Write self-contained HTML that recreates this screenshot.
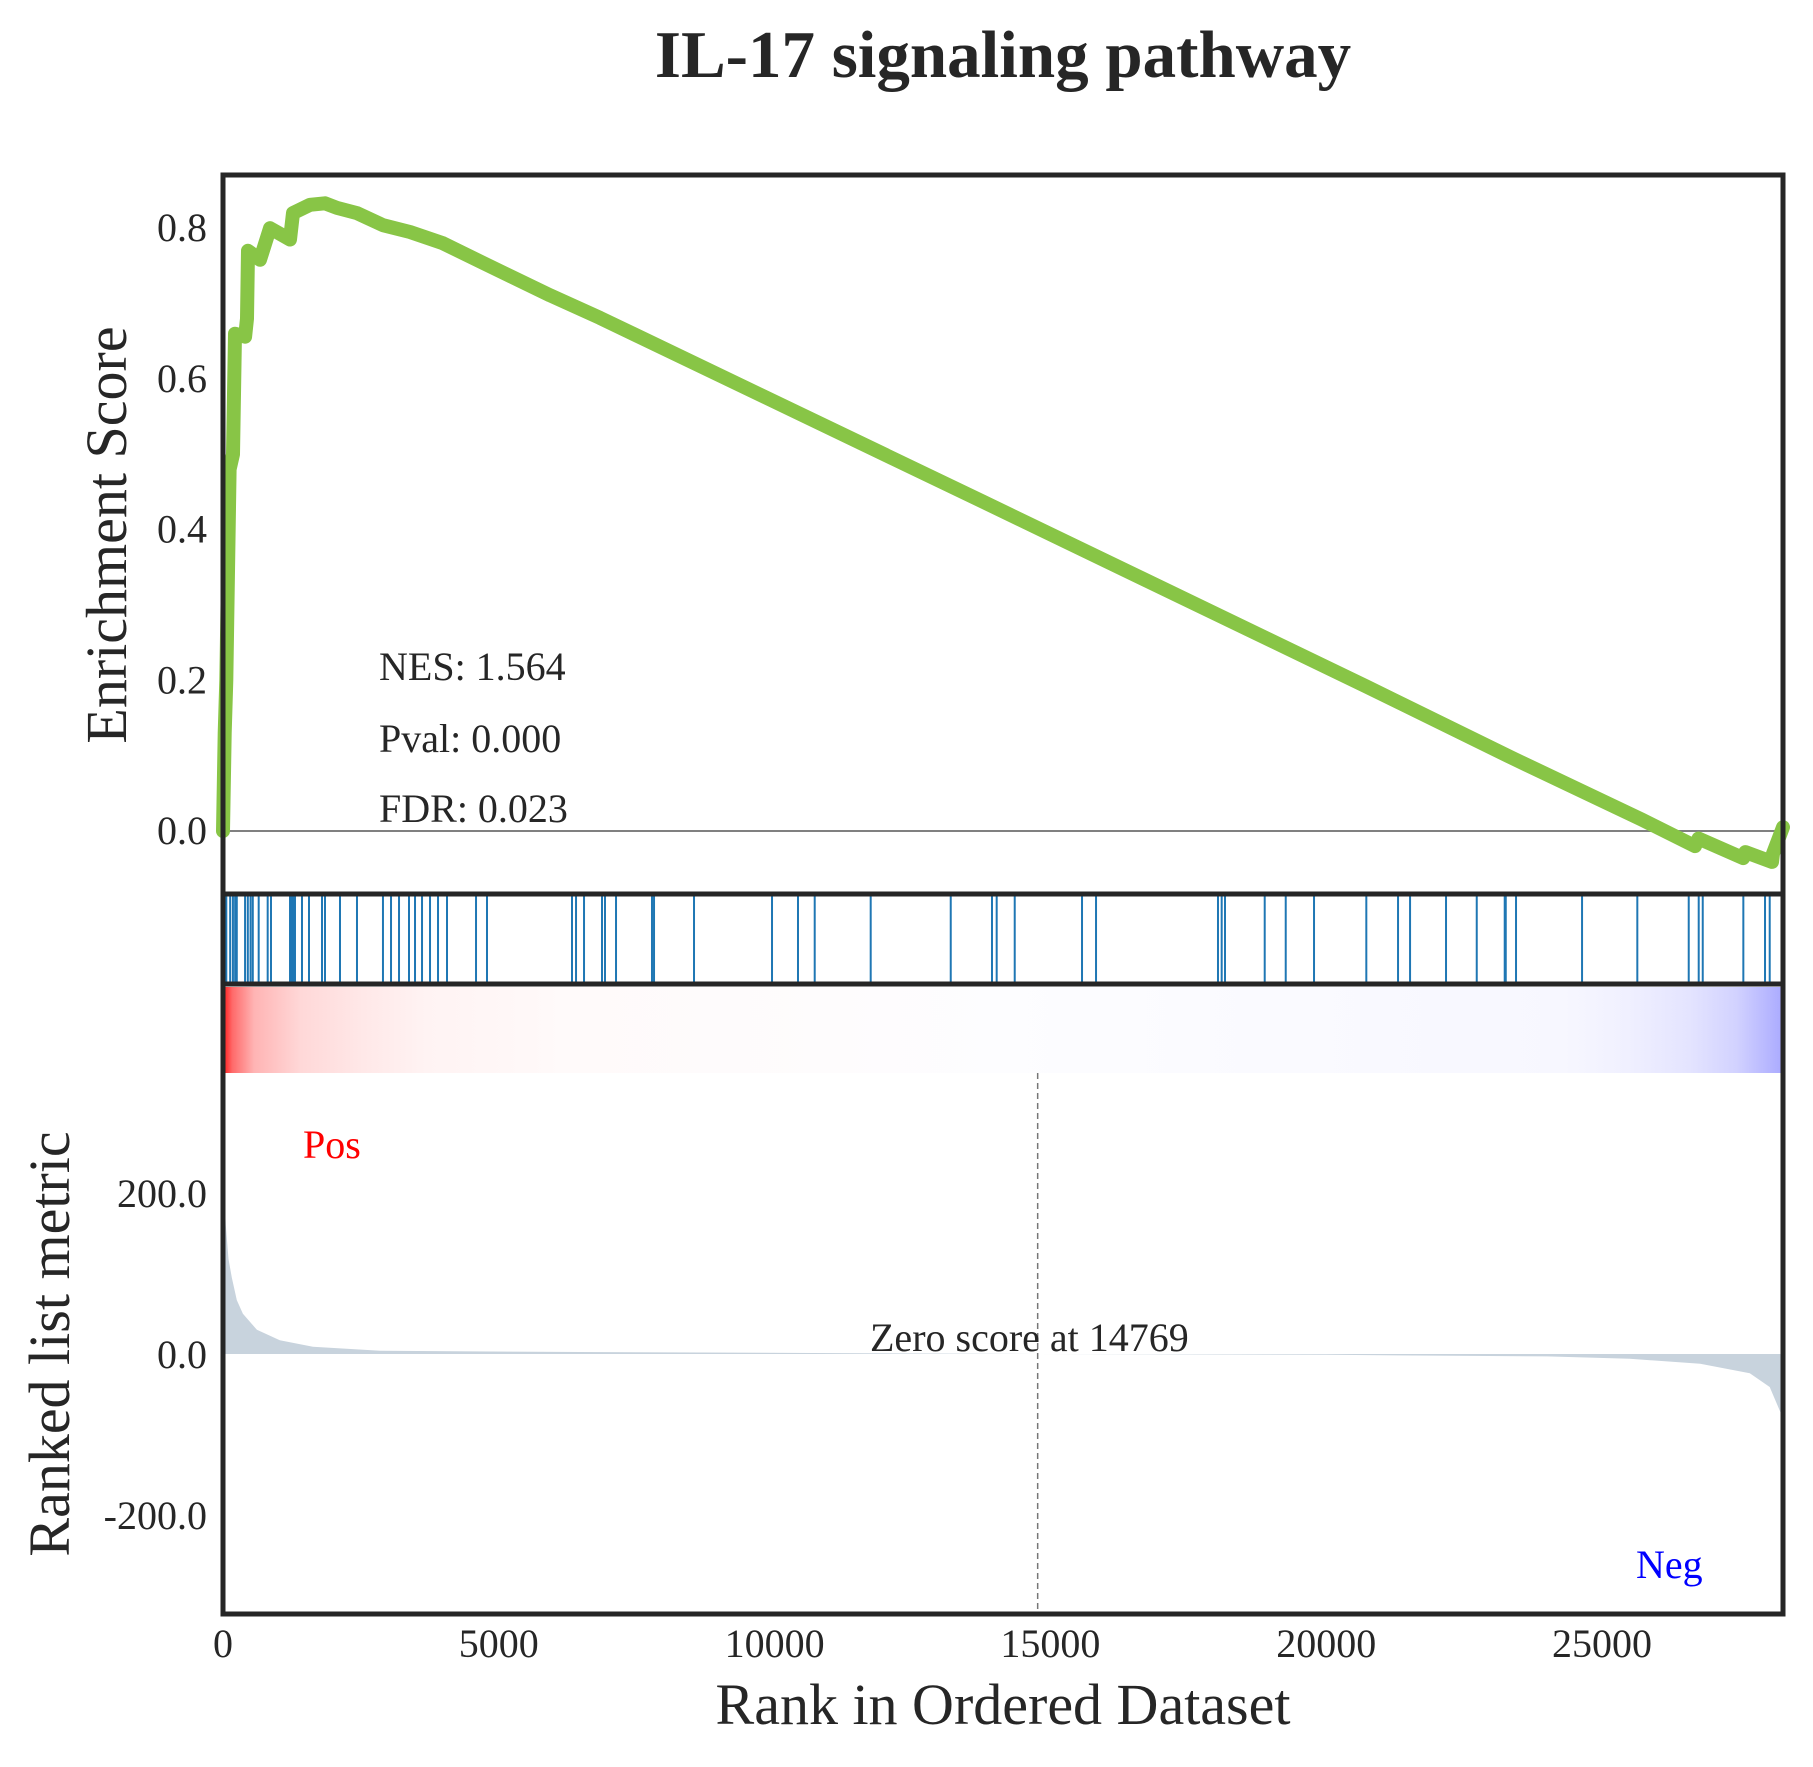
<!DOCTYPE html>
<html><head><meta charset="utf-8"><style>
html,body{margin:0;padding:0;background:#fff;}
svg{display:block;font-family:"Liberation Serif",serif;}
</style></head><body>
<svg id="chart" width="1813" height="1767" viewBox="0 0 1813 1767" xmlns="http://www.w3.org/2000/svg">
<defs>
<linearGradient id="rankGrad" x1="0" x2="1" y1="0" y2="0">
<stop offset="0" stop-color="#ff1a1a"/><stop offset="0.006" stop-color="#ff6a6a"/>
<stop offset="0.02" stop-color="#ffb4b4"/><stop offset="0.05" stop-color="#ffd8d8"/>
<stop offset="0.09" stop-color="#ffe8e8"/><stop offset="0.13" stop-color="#fff3f3"/>
<stop offset="0.22" stop-color="#fffafa"/><stop offset="0.5" stop-color="#fdfdff"/>
<stop offset="0.86" stop-color="#f7f7ff"/><stop offset="0.9" stop-color="#f0f0ff"/>
<stop offset="0.94" stop-color="#e4e4ff"/><stop offset="0.97" stop-color="#d2d2ff"/>
<stop offset="1" stop-color="#aaaaff"/>
</linearGradient>
</defs>
<text x="1003" y="77" font-size="67" font-weight="bold" text-anchor="middle" fill="#262626">IL-17 signaling pathway</text>
<g id="es-panel"></g>
<g id="hits-panel"></g>
<rect x="223" y="987" width="1560" height="86" fill="url(#rankGrad)"/>
<g id="metric-panel"></g>
<g id="frames"></g>
<text transform="translate(126,535) rotate(-90)" font-size="58" text-anchor="middle" fill="#262626">Enrichment Score</text>
<text transform="translate(69,1344) rotate(-90)" font-size="58" text-anchor="middle" fill="#262626">Ranked list metric</text>
<text x="1003" y="1724" font-size="58" text-anchor="middle" fill="#262626">Rank in Ordered Dataset</text>
<text x="379" y="680" font-size="40" fill="#262626">NES: 1.564</text>
<text x="379" y="752" font-size="40" fill="#262626">Pval: 0.000</text>
<text x="379" y="822" font-size="40" fill="#262626">FDR: 0.023</text>
<text x="303" y="1158" font-size="40" fill="#ff0000">Pos</text>
<text x="1636" y="1578" font-size="40" fill="#0000ff">Neg</text>
</svg>
<script>
const esRanks = [0,30,60,120,181,218,400,435,453,671,852,1215,1269,1577,1849,2067,2429,2901,3390,3988,4714,5928,6835,13778,20722,23368,25725,26685,26750,27560,27600,28082,28100,28281];
const esValues = [0,0.13,0.2,0.48,0.50,0.66,0.656,0.68,0.77,0.758,0.80,0.785,0.82,0.831,0.833,0.827,0.82,0.804,0.795,0.78,0.754,0.711,0.681,0.437,0.192,0.097,0.015,-0.020,-0.010,-0.036,-0.028,-0.041,-0.03,0.005];
const hitRanks = [60,130,180,220,250,400,450,500,540,647,810,870,1215,1250,1270,1305,1432,1559,1795,1849,2121,2429,2900,3046,3191,3372,3481,3608,3753,3898,4061,4587,4786,6327,6400,6545,6871,6925,7125,7777,7814,8539,9953,10424,10727,11742,13193,13941,14026,14353,15573,15827,18038,18105,18165,18885,19266,19779,20727,21302,21520,22172,22729,23236,23255,23441,24638,25640,26572,26753,26826,27562,27955,28040];
const metricRanks = [0,20,50,100,160,250,360,615,1030,1630,2850,6470,14769,20000,24000,25500,26780,27680,28040,28220,28281];
const metricValues = [240,210,160,118,95,67,50,30,17,9,4,2.5,0,-1,-3,-6,-12,-24,-41,-70,-80];
const esTicks = [0.0,0.2,0.4,0.6,0.8];
const esTickLabels = ["0.0","0.2","0.4","0.6","0.8"];
const metricTicks = [-200,0,200];
const metricTickLabels = ["-200.0","0.0","200.0"];
const xTicks = [0,5000,10000,15000,20000,25000];
const xTickLabels = ["0","5000","10000","15000","20000","25000"];
const zeroScoreRank = 14769;

const NS="http://www.w3.org/2000/svg";
const L=223,R=1783,maxRank=28281;
const xs=r=>L+(r/maxRank)*(R-L);
const yES=v=>831-v*753.5;
const yM=v=>1354-v*0.805;
function mk(tag,parent,attrs){const e=document.createElementNS(NS,tag);for(const k in attrs)e.setAttribute(k,attrs[k]);parent.appendChild(e);return e;}
const svg=document.getElementById('chart');
const esG=document.getElementById('es-panel');
const hitsG=document.getElementById('hits-panel');
const mG=document.getElementById('metric-panel');
const fr=document.getElementById('frames');

let zl=mk('line',esG,{x1:L,x2:R,y1:yES(0),y2:yES(0),stroke:'#808080','stroke-width':2});


let pts=esRanks.map((r,i)=>xs(r).toFixed(1)+','+yES(esValues[i]).toFixed(1)).join(' ');
let esLine=mk('polyline',esG,{points:pts,fill:'none',stroke:'#88c546','stroke-width':14,'stroke-linejoin':'round','stroke-linecap':'round'});


hitRanks.forEach(r=>{
  const h=mk('line',hitsG,{x1:xs(r),x2:xs(r),y1:896,y2:982,stroke:'#1f77b4','stroke-width':2});
  
  
});
let mp='M'+xs(metricRanks[0])+','+yM(0);
metricRanks.forEach((r,i)=>{mp+=' L'+xs(r).toFixed(1)+','+yM(metricValues[i]).toFixed(1);});
mp+=' L'+xs(metricRanks[metricRanks.length-1])+','+yM(0)+' Z';
let area=mk('path',mG,{d:mp,fill:'#c8d3dd'});


let zd=mk('line',mG,{x1:xs(zeroScoreRank),x2:xs(zeroScoreRank),y1:1073,y2:1612,stroke:'#777','stroke-width':1.5,'stroke-dasharray':'6,4'});


let zt=mk('text',mG,{x:870,y:1351,'font-size':40,fill:'#262626'});
zt.textContent='Zero score at '+zeroScoreRank;


[[223,175,1560,719],[223,894,1560,90],[223,984,1560,630]].forEach((b,i)=>{
  const f=mk('rect',fr,{x:b[0],y:b[1],width:b[2],height:b[3],fill:'none',stroke:'#262626','stroke-width':5});
  
  
});
esTicks.forEach((v,i)=>{
  const t=mk('text',svg,{x:207,y:yES(v)+13,'font-size':40,'text-anchor':'end',fill:'#262626'});
  t.textContent=esTickLabels[i];
  
  
});
metricTicks.forEach((v,i)=>{
  const t=mk('text',svg,{x:207,y:yM(v)+14,'font-size':40,'text-anchor':'end',fill:'#262626'});
  t.textContent=metricTickLabels[i];
  
  
});
xTicks.forEach((v,i)=>{
  const t=mk('text',svg,{x:xs(v),y:1657,'font-size':40,'text-anchor':'middle',fill:'#262626'});
  t.textContent=xTickLabels[i];
  
  
});
</script>
</body></html>
